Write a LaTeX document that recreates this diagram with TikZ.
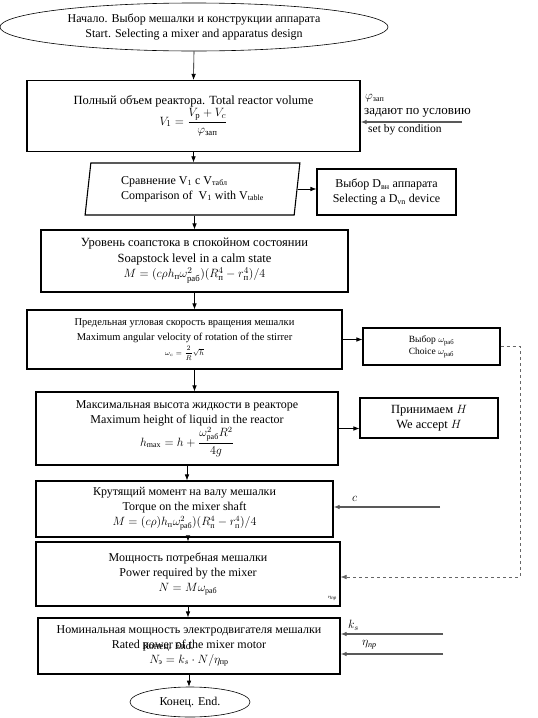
\documentclass[tikz,border=0pt]{standalone}
\usepackage{amsmath}
\usepackage{fontspec}
\setmainfont{Liberation Serif}
\usetikzlibrary{shapes.geometric,arrows.meta}

\begin{document}
\begin{tikzpicture}[x=1pt,y=-1pt,
  blk/.style={draw,line width=1.1pt,align=center,inner sep=2pt,font=\fontsize{12}{15}\selectfont},
  oval/.style={draw,ellipse,line width=0.6pt,align=center,inner sep=0pt,font=\fontsize{12}{15}\selectfont},
  flow/.style={-{Latex[length=6pt,width=4.5pt]},line width=0.6pt},
  feed/.style={-{Latex[length=6pt,width=4.5pt]},black!65,line width=1.2pt},
  lbl/.style={anchor=west,inner sep=0pt,font=\fontsize{11.5}{13}\selectfont}]
\useasboundingbox (0,0) rectangle (538,718);
% main column
\node[oval,minimum width=388pt,minimum height=48pt] (start) at (194,27) {Начало. Выбор мешалки и конструкции аппарата\\Start. Selecting a mixer and apparatus design};
\node[blk,minimum width=333pt,minimum height=71pt,font=\fontsize{12.5}{15}\selectfont] (vol) at (193.5,116) {Полный объем реактора. Total reactor volume\\ $V_1=\dfrac{V_{\text{р}}+V_c}{\varphi_{\text{зап}}}$\\[-4pt]};
\node[blk,trapezium,trapezium left angle=82,trapezium right angle=98,trapezium stretches=true,minimum width=215pt,minimum height=52pt,align=left] (cmp) at (192.5,189) {Сравнение V\textsubscript{1} с V\textsubscript{табл}\\Comparison of~ V\textsubscript{1} with V\textsubscript{table}};
\node[blk,minimum width=307pt,minimum height=62pt,font=\fontsize{12.5}{15.5}\selectfont] (lvl) at (194.5,261) {Уровень соапстока в спокойном состоянии\\Soapstock level in a calm state\\ $M=(c\rho h_{\text{п}}\omega^2_{\text{раб}})(R^4_{\text{п}}-r^4_{\text{п}})/4$};
\node[blk,minimum width=315pt,minimum height=59pt,font=\fontsize{10.5}{15}\selectfont] (omg) at (184.5,339.5) {Предельная угловая скорость вращения мешалки\\Maximum angular velocity of rotation of the stirrer\\ {\scriptsize $\omega_c=\dfrac{2}{R}\sqrt{h}$}};
\node[blk,minimum width=302pt,minimum height=73pt] (hmax) at (187,428.5) {Максимальная высота жидкости в реакторе\\Maximum height of liquid in the reactor\\ $h_{\max}=h+\dfrac{\omega^2_{\text{раб}}R^2}{4g}$};
\node[blk,minimum width=297pt,minimum height=56pt] (trq) at (184.5,509) {Крутящий момент на валу мешалки\\Torque on the mixer shaft\\ $M=(c\rho)h_{\text{п}}\omega^2_{\text{раб}})(R^4_{\text{п}}-r^4_{\text{п}})/4$};
\node[blk,minimum width=304pt,minimum height=64pt] (pwr) at (188,574) {Мощность потребная мешалки\\Power required by the mixer\\ $N=M\omega_{\text{раб}}$};
\node[blk,minimum width=302pt,minimum height=56pt] (nom) at (189,646) {Номинальная мощность электродвигателя мешалки\\Rated power of the mixer motor\\ $N_{\text{э}}=k_s\cdot N/\eta_{\text{пр}}$};
\node[oval,minimum width=120pt,minimum height=30pt] (finish) at (190,702) {Конец. End.};
\node[font=\fontsize{10}{12}\selectfont,inner sep=0pt] (ghost) at (168,647) {Конец. End.};
\node[anchor=east,inner sep=1pt,font=\tiny] (etaNote) at (338,598) {$\eta_{\text{\itshape пр}}$};
% side boxes
\node[blk,minimum width=139pt,minimum height=46pt] (dvn) at (386.5,192) {Выбор D\textsubscript{вн} аппарата\\Selecting a D\textsubscript{vn} device};
\node[blk,minimum width=137pt,minimum height=37pt,font=\fontsize{9.5}{12}\selectfont] (chw) at (431.5,346.5) {Выбор $\omega_{\text{раб}}$\\Choice $\omega_{\text{раб}}$};
\node[blk,minimum width=138pt,minimum height=40pt,font=\fontsize{12.5}{15}\selectfont] (accH) at (429,418) {Принимаем $H$\\We accept $H$};
% given values
\node[lbl] (phiLbl) at (365,98) {$\varphi_{\text{зап}}$};
\node[lbl,font=\fontsize{13}{15}\selectfont] (condRu) at (364,113) {задают по условию};
\node[lbl] (condEn) at (368,130) {set by condition};
\node[lbl] (cLbl) at (352,499) {$c$};
\node[lbl] (ksLbl) at (348,625) {$k_s$};
\node[lbl] (etaLbl) at (362,645) {$\eta_{\text{\itshape пр}}$};
\coordinate (phiIn) at (462,122);
\coordinate (cIn) at (440,507);
\coordinate (ksIn) at (443,634);
\coordinate (etaIn) at (443,654);
\coordinate (fbk) at (520,577);
% connectors
\draw[flow] (start.south) -- (vol.north);
\draw[flow] (vol.south) -- (vol.south |- cmp.north);
\draw[flow] (cmp.east) -- (cmp.east -| dvn.west);
\draw[flow] (cmp.south -| lvl.north) -- (lvl.north);
\draw[flow] (lvl.south) -- (lvl.south |- omg.north);
\draw[flow] (omg.east) -- (omg.east -| chw.west);
\draw[flow] (lvl.south |- omg.south) -- (lvl.south |- hmax.north);
\draw[flow] (hmax.east) -- (hmax.east -| accH.west);
\draw[flow] (hmax.south) -- (hmax.south |- trq.north);
\draw[flow] (pwr.north |- trq.south) -- (pwr.north);
\draw[flow] (pwr.south) -- (pwr.south |- nom.north);
\draw[flow] (nom.south) -- (nom.south |- finish.north);
\draw[flow,dashed,black!60] (chw.east) -| (fbk) -- (fbk -| pwr.east);
\draw[feed] (phiIn) -- (phiIn -| vol.east);
\draw[feed] (cIn) -- (cIn -| trq.east);
\draw[feed] (ksIn) -- (ksIn -| nom.east);
\draw[feed] (etaIn) -- (etaIn -| nom.east);
\end{tikzpicture}
\end{document}
